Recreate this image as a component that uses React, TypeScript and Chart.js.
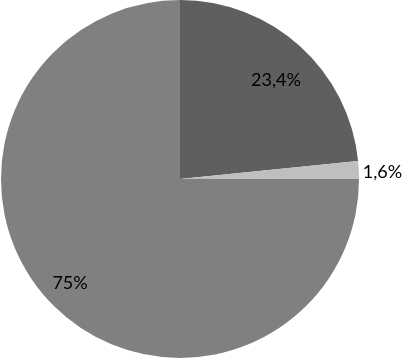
import React, { useEffect, useRef } from "react";
import { Chart, registerables } from "chart.js";

Chart.register(...registerables);

const categories = ["A", "B", "C"];
const values = [23.4, 1.6, 75];
const valueLabels = ["23,4%", "1,6%", "75%"];
const colors = ["#5f5f5f", "#bfbfbf", "#808080"];
const labelRadiusFactors = [0.774, 1.132, 0.844];
const labelAngleOffsetsDeg = [1.7, 0.8, 1.7];

const labelPlugin = {
  id: "sliceLabels",
  afterDatasetsDraw(chart: any) {
    const ctx = chart.ctx;
    const meta = chart.getDatasetMeta(0);
    ctx.save();
    ctx.font = "18px Lato, sans-serif";
    ctx.fillStyle = "#000000";
    ctx.textAlign = "center";
    ctx.textBaseline = "middle";
    meta.data.forEach((arc: any, i: number) => {
      const p = arc.getProps(["x", "y", "startAngle", "endAngle", "outerRadius"], true);
      const mid = (p.startAngle + p.endAngle) / 2 + (labelAngleOffsetsDeg[i] * Math.PI) / 180;
      const r = p.outerRadius * labelRadiusFactors[i];
      ctx.fillText(valueLabels[i], p.x + Math.cos(mid) * r, p.y + Math.sin(mid) * r + 1);
    });
    ctx.restore();
  },
};

export default function App() {
  const ref = useRef<HTMLCanvasElement>(null);
  useEffect(() => {
    const chart = new Chart(ref.current!, {
      type: "pie",
      data: {
        labels: categories,
        datasets: [
          {
            data: values,
            backgroundColor: colors,
            borderWidth: 0,
          },
        ],
      },
      options: {
        responsive: false,
        animation: false,
        layout: { padding: { left: 1, right: 44, top: 0, bottom: 1 } },
        plugins: {
          legend: { display: false },
          tooltip: { enabled: false },
        },
      },
      plugins: [labelPlugin],
    });
    return () => chart.destroy();
  }, []);
  return (
    <div style={{ position: "absolute", left: 0, top: 0, width: 403, height: 359, background: "#ffffff" }}>
      <canvas ref={ref} width={403} height={359} />
    </div>
  );
}
